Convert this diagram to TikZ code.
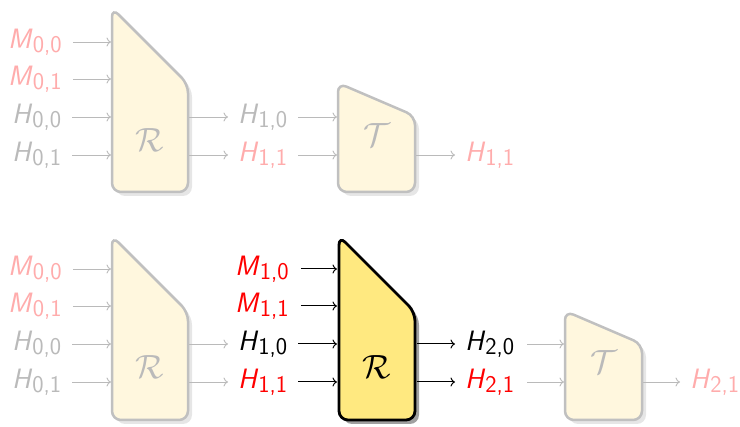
\documentclass[tikz,border=0pt]{standalone}
\usetikzlibrary{arrows.meta}
\definecolor{fpink}{RGB}{255,172,172}
\definecolor{fgray}{RGB}{186,186,186}
\definecolor{ffill}{RGB}{255,247,222}
\definecolor{fedge}{RGB}{192,192,192}
\definecolor{hfill}{RGB}{255,233,128}
\definecolor{hred}{RGB}{255,0,0}
\definecolor{fshadow}{RGB}{230,230,230}
\definecolor{hshadow}{RGB}{160,160,160}
\tikzset{
  lab/.style={anchor=west, inner sep=0pt, font=\fontsize{28}{30}\selectfont\sffamily},
  sym/.style={inner sep=0pt, font=\fontsize{24}{26}\selectfont},
  farr/.style={-{To[length=4.5pt,width=9pt]}, draw=fgray, line width=0.9pt},
  harr/.style={-{To[length=4.5pt,width=9pt]}, draw=black, line width=1pt},
  fromlab/.style={shorten <=11pt},
  tolab/.style={shorten >=10pt},
  fblock/.style={fill=ffill, draw=fedge, line width=2.5pt, rounded corners=9pt},
  hblock/.style={fill=hfill, draw=black, line width=2.8pt, rounded corners=9pt},
  fshad/.style={fill=fshadow, rounded corners=9pt},
  hshad/.style={fill=hshadow, rounded corners=9pt},
}
\newcommand\lb[2]{\textit{#1}\raisebox{-4pt}{\fontsize{24}{24}\selectfont #2}}
\newcommand\bigcal[1]{\scalebox{1.35}{$\mathcal{#1}$}}
\newcommand\rshape{(0,0) -- (76,76) -- (76,184) -- (0,184) -- cycle}
\newcommand\tshape{(0,0) -- (77,33) -- (77,109) -- (0,109) -- cycle}
\begin{document}
\begin{tikzpicture}[x=1pt,y=-1pt]
\useasboundingbox (0,0) rectangle (740,427);

% ---------- top row ----------
\begin{scope}[shift={(112,8)}]
  \fill[fshad, shift={(4,4)}] \rshape;
  \draw[fblock] \rshape;
\end{scope}
\node[sym, text=fgray] (r1) at (150,140) {\bigcal{R}};
\begin{scope}[shift={(338,83)}]
  \fill[fshad, shift={(4,4)}] \tshape;
  \draw[fblock] \tshape;
\end{scope}
\node[sym, text=fgray] (t1) at (377,135) {\bigcal{T}};

\node[lab, text=fpink] (am00) at (8,42)  {\lb{M}{0,0}};
\node[lab, text=fpink] (am01) at (8,79)  {\lb{M}{0,1}};
\node[lab, text=fgray] (ah00) at (12,117) {\lb{H}{0,0}};
\node[lab, text=fgray] (ah01) at (12,155) {\lb{H}{0,1}};
\coordinate (ar1i1) at (111,42);
\coordinate (ar1i2) at (111,79);
\coordinate (ar1i3) at (111,117);
\coordinate (ar1i4) at (111,155);
\draw[farr, fromlab] (am00.east) -- (ar1i1);
\draw[farr, fromlab] (am01.east) -- (ar1i2);
\draw[farr, fromlab] (ah00.east) -- (ar1i3);
\draw[farr, fromlab] (ah01.east) -- (ar1i4);

\coordinate (ar1o1) at (189,117);
\coordinate (ar1o2) at (189,155);
\node[lab, text=fgray] (ah10) at (238,117) {\lb{H}{1,0}};
\node[lab, text=fpink] (ah11) at (238,155) {\lb{H}{1,1}};
\draw[farr, tolab] (ar1o1) -- (ah10.west);
\draw[farr, tolab] (ar1o2) -- (ah11.west);

\coordinate (at1i1) at (337,117);
\coordinate (at1i2) at (337,155);
\draw[farr, fromlab] (ah10.east) -- (at1i1);
\draw[farr, fromlab] (ah11.east) -- (at1i2);
\coordinate (at1o) at (416,155);
\node[lab, text=fpink] (aout) at (465,155) {\lb{H}{1,1}};
\draw[farr, tolab] (at1o) -- (aout.west);

% ---------- bottom row ----------
\begin{scope}[shift={(112,236)}]
  \fill[fshad, shift={(4,4)}] \rshape;
  \draw[fblock] \rshape;
\end{scope}
\node[sym, text=fgray] (r1b) at (150,367) {\bigcal{R}};
\begin{scope}[shift={(339,236)}]
  \fill[hshad, shift={(4,4)}] \rshape;
  \draw[hblock] \rshape;
\end{scope}
\node[sym, text=black] (r2) at (377,367) {\bigcal{R}};
\begin{scope}[shift={(565,311)}]
  \fill[fshad, shift={(4,4)}] \tshape;
  \draw[fblock] \tshape;
\end{scope}
\node[sym, text=fgray] (t2) at (604,362) {\bigcal{T}};

\node[lab, text=fpink] (bm00) at (8,269)  {\lb{M}{0,0}};
\node[lab, text=fpink] (bm01) at (8,306)  {\lb{M}{0,1}};
\node[lab, text=fgray] (bh00) at (12,344) {\lb{H}{0,0}};
\node[lab, text=fgray] (bh01) at (12,382) {\lb{H}{0,1}};
\coordinate (br1i1) at (111,269);
\coordinate (br1i2) at (111,306);
\coordinate (br1i3) at (111,344);
\coordinate (br1i4) at (111,382);
\draw[farr, fromlab] (bm00.east) -- (br1i1);
\draw[farr, fromlab] (bm01.east) -- (br1i2);
\draw[farr, fromlab] (bh00.east) -- (br1i3);
\draw[farr, fromlab] (bh01.east) -- (br1i4);

\coordinate (br1o1) at (189,344);
\coordinate (br1o2) at (189,382);
\node[lab, text=hred]  (bm10) at (235,269) {\lb{M}{1,0}};
\node[lab, text=hred]  (bm11) at (235,306) {\lb{M}{1,1}};
\node[lab, text=black] (bh10) at (238,344) {\lb{H}{1,0}};
\node[lab, text=hred]  (bh11) at (238,382) {\lb{H}{1,1}};
\draw[farr, tolab] (br1o1) -- (bh10.west);
\draw[farr, tolab] (br1o2) -- (bh11.west);

\coordinate (br2i1) at (337,269);
\coordinate (br2i2) at (337,306);
\coordinate (br2i3) at (337,344);
\coordinate (br2i4) at (337,382);
\draw[harr, shorten <=12pt] (bm10.east) -- (br2i1);
\draw[harr, shorten <=12pt] (bm11.east) -- (br2i2);
\draw[harr, fromlab] (bh10.east) -- (br2i3);
\draw[harr, fromlab] (bh11.east) -- (br2i4);

\coordinate (br2o1) at (417,344);
\coordinate (br2o2) at (417,382);
\node[lab, text=black] (bh20) at (465,344) {\lb{H}{2,0}};
\node[lab, text=hred]  (bh21) at (465,382) {\lb{H}{2,1}};
\draw[harr, tolab] (br2o1) -- (bh20.west);
\draw[harr, tolab] (br2o2) -- (bh21.west);

\coordinate (bt2i1) at (564,344);
\coordinate (bt2i2) at (564,382);
\draw[farr, shorten <=13pt] (bh20.east) -- (bt2i1);
\draw[farr, shorten <=13pt] (bh21.east) -- (bt2i2);
\coordinate (bt2o) at (643,382);
\node[lab, text=fpink] (bout) at (690,382) {\lb{H}{2,1}};
\draw[farr, tolab] (bt2o) -- (bout.west);
\end{tikzpicture}
\end{document}
